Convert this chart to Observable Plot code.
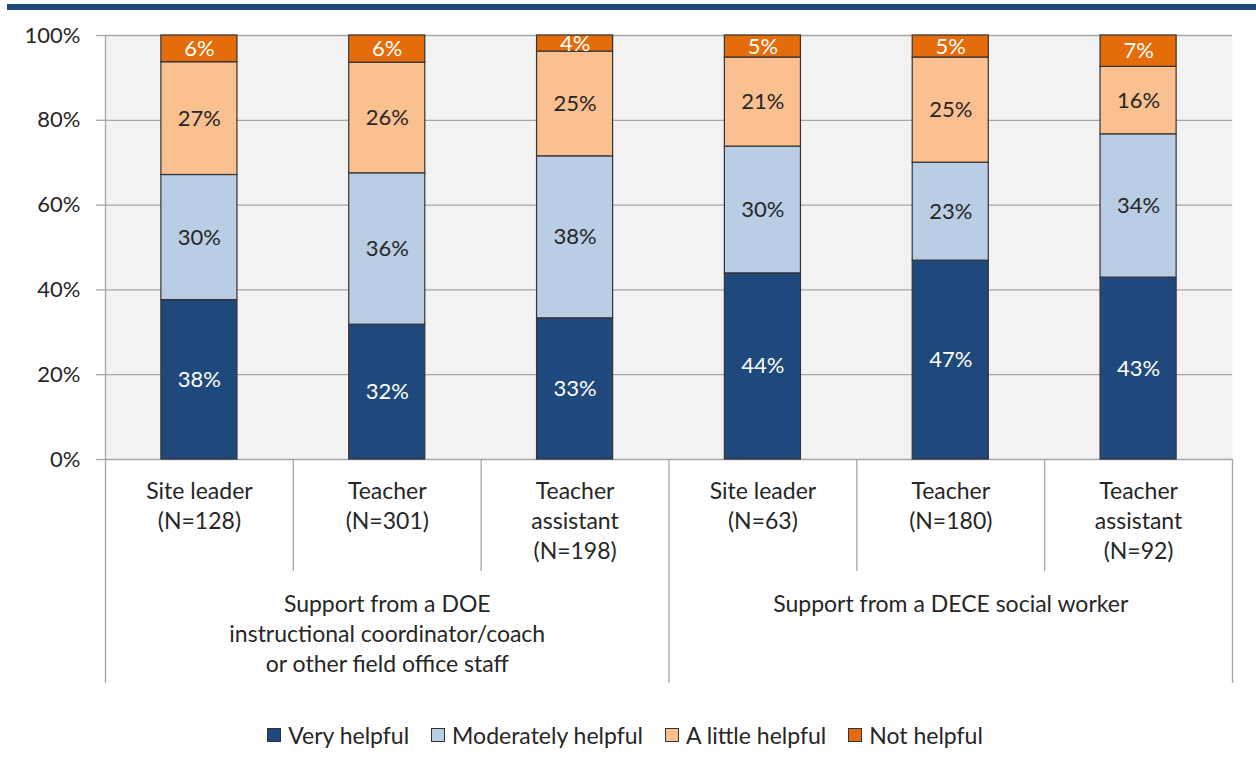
<!DOCTYPE html>
<html><head><meta charset="utf-8">
<script src="https://cdn.jsdelivr.net/npm/d3@7"></script>
<script src="https://cdn.jsdelivr.net/npm/@observablehq/plot@0.6"></script>
<style>
body{margin:0;background:#fff;font-family:Lato,"Open Sans",sans-serif;}
#topbar{position:absolute;left:7px;top:4px;right:0;height:6px;background:#1f497d;}
#chart{position:relative;height:700px;}
#legend{display:flex;justify-content:center;align-items:center;gap:22px;margin-top:21px;font-size:23px;color:#262626;padding-right:6px;}
.item{display:flex;align-items:center;gap:7px;}
.sw{width:12px;height:12px;border:1px solid #333;}
</style></head><body>
<div id="topbar"></div>
<div id="chart"></div>
<div id="legend"></div>
<script>
const roles = ["Site leader\n(N=128)", "Teacher\n(N=301)", "Teacher\nassistant\n(N=198)", "Site leader\n(N=63)", "Teacher\n(N=180)", "Teacher\nassistant\n(N=92)"];
const groupLabels = ["Support from a DOE\ninstructional coordinator/coach\nor other field office staff", "Support from a DECE social worker"];
const groupSizes = [3, 3];
const series = ["Very helpful", "Moderately helpful", "A little helpful", "Not helpful"];
const colors = ["#1f497d", "#b9cde5", "#fac090", "#e46c0a"];
const lightLabelSeries = ["Very helpful", "Not helpful"];
const veryHelpful = [37.6, 31.8, 33.3, 43.9, 46.9, 42.9];
const moderatelyHelpful = [29.5, 35.7, 38.2, 29.9, 23.1, 33.8];
const littleHelpful = [26.6, 26.1, 24.7, 21.0, 24.8, 15.9];
const notHelpful = [6.3, 6.4, 3.8, 5.2, 5.2, 7.4];
const yTicks = [0, 20, 40, 60, 80, 100];

const valuesBySeries = [veryHelpful, moderatelyHelpful, littleHelpful, notHelpful];
const segments = [];
roles.forEach((role, i) => {
  let base = 0;
  valuesBySeries.forEach((vals, s) => {
    const v = vals[i];
    segments.push({i, series: series[s], v, y1: base, y2: base + v});
    base += v;
  });
});

const W = 1256, H = 700, mt = 35, mb = 241, ml = 105, mr = 24;
const unitsPerPx = 100 / (H - mt - mb);
const innerDepth = -112 * unitsPerPx;
const outerDepth = -224 * unitsPerPx;
const half = 0.2025;

const groupEdges = [0];
groupSizes.forEach(g => groupEdges.push(groupEdges[groupEdges.length - 1] + g));
const innerEdges = d3.range(1, roles.length).filter(b => !groupEdges.includes(b));
const groupCenters = groupSizes.map((g, k) => groupEdges[k] + g / 2);

const fontSize = 23;
const lh = 30 / fontSize;
const chart = Plot.plot({
  width: W, height: H,
  marginTop: mt, marginBottom: mb, marginLeft: ml, marginRight: mr,
  style: {fontFamily: "Lato, 'Open Sans', sans-serif", fontSize: fontSize + "px", color: "#262626", background: "transparent"},
  x: {type: "linear", domain: [0, roles.length], axis: null},
  y: {domain: [0, 100], axis: null},
  color: {domain: series, range: colors},
  marks: [
    Plot.frame({fill: "#f2f2f2", stroke: "none"}),
    Plot.gridY(yTicks, {stroke: "#a6a6a6", strokeOpacity: 1, strokeWidth: 1.3}),
    Plot.axisY(yTicks, {tickSize: 9, tickPadding: 16, tickFormat: d => d + "%", stroke: "#a6a6a6", strokeWidth: 1.3, fill: "#262626", fontSize: 22, label: null}),
    Plot.ruleX([groupEdges[0]], {x: d => d, y1: 100, y2: outerDepth, stroke: "#a6a6a6", strokeWidth: 1.3}),
    Plot.ruleX(groupEdges.slice(1), {x: d => d, y1: 0, y2: outerDepth, stroke: "#a6a6a6", strokeWidth: 1.3}),
    Plot.ruleX(innerEdges, {x: d => d, y1: 0, y2: innerDepth, stroke: "#a6a6a6", strokeWidth: 1.3}),
    Plot.rect(segments, {x1: d => d.i + 0.5 - half, x2: d => d.i + 0.5 + half, y1: "y1", y2: "y2", fill: "series", stroke: "#333", strokeWidth: 1.2}),
    Plot.text(segments.filter(d => lightLabelSeries.includes(d.series)), {x: d => d.i + 0.5, y: d => (d.y1 + d.y2) / 2, text: d => Math.round(d.v) + "%", fill: "#ffffff", fontSize: 22}),
    Plot.text(segments.filter(d => !lightLabelSeries.includes(d.series)), {x: d => d.i + 0.5, y: d => (d.y1 + d.y2) / 2, text: d => Math.round(d.v) + "%", fill: "#262626", fontSize: 22}),
    Plot.text(roles, {x: (d, i) => i + 0.5, frameAnchor: "bottom", lineAnchor: "top", dy: 18, lineHeight: lh, text: d => d, fill: "#262626", fontSize: fontSize}),
    Plot.text(groupLabels, {x: (d, i) => groupCenters[i], frameAnchor: "bottom", lineAnchor: "top", dy: 131, lineHeight: lh, text: d => d, fill: "#262626", fontSize: fontSize})
  ]
});
document.getElementById("chart").appendChild(chart);

const legend = d3.select("#legend");
series.forEach((s, k) => {
  const it = legend.append("div").attr("class", "item");
  it.append("div").attr("class", "sw").style("background", colors[k]);
  it.append("span").text(s);
});
</script>
</body></html>
